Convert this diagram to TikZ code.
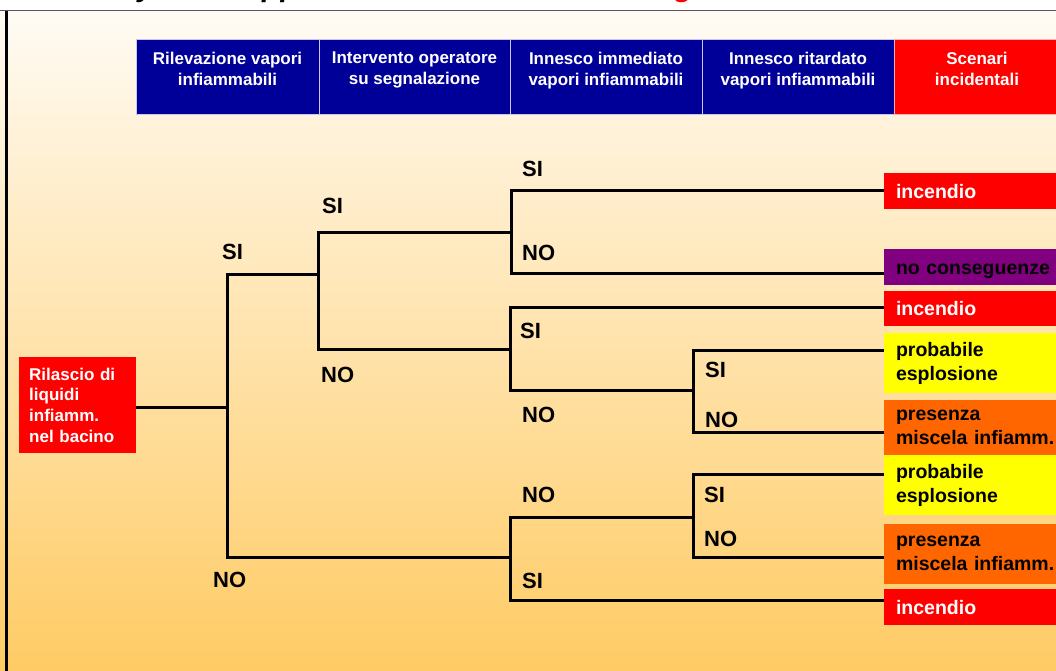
\documentclass[tikz,border=0pt]{standalone}
\usepackage{fontspec}
\setmainfont{Liberation Sans}

\definecolor{hdrblue}{HTML}{000099}
\definecolor{alarmred}{HTML}{FF0000}
\definecolor{plum}{HTML}{800080}
\definecolor{warnyellow}{HTML}{FFFF00}
\definecolor{hotorange}{HTML}{FF6600}
\definecolor{bgtop}{HTML}{FFFBF4}
\definecolor{bgbot}{HTML}{FFCB64}
\definecolor{hdredge}{HTML}{C8C8EC}

% one text line with fixed ascender/descender room
\newcommand{\boxline}[1]{\vphantom{Ap}#1}

\tikzset{
  branch/.style={line width=3pt, black, line join=miter},
  hdrbox/.style={rectangle, anchor=north west, draw=hdredge, line width=1pt,
    outer sep=0pt, inner sep=0pt, minimum height=75pt},
  hdrtext/.style={anchor=north, inner sep=0pt, align=center, text=white,
    font=\bfseries\fontsize{17pt}{20.5pt}\selectfont},
  outcome/.style={rectangle, anchor=west, inner xsep=12pt, inner ysep=0pt,
    text width=166pt, align=left, outer sep=0pt,
    font=\bfseries\fontsize{19.5pt}{24pt}\selectfont},
  oneline/.style={outcome, text height=14pt, text depth=0pt, minimum height=36pt},
  answer/.style={anchor=west, inner sep=0pt, font=\bfseries\fontsize{22pt}{22pt}\selectfont},
  torn/.style={inner sep=0pt, anchor=base, font=\bfseries\itshape\fontsize{30pt}{30pt}\selectfont}
}

\begin{document}
\begin{tikzpicture}[x=1pt, y=-1pt]
\useasboundingbox (0,0) rectangle (1056,671);
\clip (0,0) rectangle (1056,671);

% page background
\fill[white] (0,0) rectangle (1056,11);
\shade[top color=bgtop, bottom color=bgbot] (0,11) rectangle (1056,671);
\draw[black!65, line width=1.2pt] (0,10.7) -- (1056,10.7);
\draw[black, line width=2.5pt] (6.5,11) -- (6.5,671);

% descenders of the title line, above the rule
\begin{scope}
  \clip (0,0) rectangle (1056,10);
  \node[torn] (tt1) at (146,-3.8) {y};
  \node[torn, anchor=base west] (tt2) at (262,-3.8) {pp};
  \node[torn, text=alarmred] (tt3) at (684,-3.8) {g};
\end{scope}

% column headers
\node[hdrbox, fill=hdrblue, minimum width=183pt] (h1) at (136,40) {};
\node[hdrbox, fill=hdrblue, minimum width=191pt] (h2) at (319,40) {};
\node[hdrbox, fill=hdrblue, minimum width=192pt] (h3) at (510,40) {};
\node[hdrbox, fill=hdrblue, minimum width=192pt] (h4) at (702,40) {};
\node[hdrbox, fill=alarmred, draw=red!30!white, minimum width=170pt] (h5) at (894,40) {};
\node[hdrtext] (t1) at ([yshift=-12pt]h1.north) {Rilevazione vapori\\infiammabili};
\node[hdrtext] (t2) at ([yshift=-12pt]h2.north) {Intervento operatore\\su segnalazione};
\node[hdrtext] (t3) at ([yshift=-12pt]h3.north) {Innesco immediato\\vapori infiammabili};
\node[hdrtext] (t4) at ([yshift=-12pt]h4.north) {Innesco ritardato\\vapori infiammabili};
\node[hdrtext] (t5) at (977,52) {Scenari\\incidentali};

% initiating event
\node[rectangle, anchor=north west, fill=alarmred, text=white, align=left,
      text width=97pt, inner xsep=10pt, inner ysep=0pt, minimum height=96pt,
      font=\bfseries\fontsize{17pt}{20.7pt}\selectfont]
      (rel) at (19,357) {Rilascio di\\liquidi\\infiamm.\\nel bacino};

% outcomes
\node[oneline, fill=alarmred, text=white] (s1) at (884,191) {incendio};
\node[oneline, fill=plum, text=black] (s2) at (884,267) {no conseguenze};
\node[oneline, fill=alarmred, text=white, minimum height=35pt] (s3) at (884,308.5) {incendio};
\node[outcome, fill=warnyellow, minimum height=60pt] (s4) at (884,363) {\boxline{probabile}\\\boxline{esplosione}};
\node[outcome, fill=hotorange, minimum height=56pt] (s5) at (884,428) {\boxline{presenza}\\\boxline{miscela infiamm.}};
\node[outcome, fill=warnyellow, minimum height=60pt] (s6) at (884,485) {\boxline{probabile}\\\boxline{esplosione}};
\node[outcome, fill=hotorange, minimum height=60pt] (s7) at (884,554) {\boxline{presenza}\\\boxline{miscela infiamm.}};
\node[oneline, fill=alarmred, text=white] (s8) at (884,607) {incendio};

% branch points
\coordinate (r)  at (227,407);
\coordinate (a1) at (227,274); \coordinate (a2) at (227,557);
\coordinate (b1) at (318,232); \coordinate (b2) at (318,349);
\coordinate (c1) at (511,190); \coordinate (c2) at (511,273);
\coordinate (d1) at (510,307); \coordinate (d2) at (510,390);
\coordinate (e1) at (693,350); \coordinate (e2) at (693,432);
\coordinate (f1) at (510,517); \coordinate (f2) at (510,600);
\coordinate (g1) at (693,474); \coordinate (g2) at (693,557);

% event tree
\draw[branch] (rel.east |- r) -- (r);
\draw[branch] (a1 -| b1) -- (a1) -- (a2) -- (a2 -| f1);
\draw[branch] (b1 -| c1) -- (b1) -- (b2) -- (b2 -| d1);
\draw[branch] (c1 -| s1.west) -- (c1) -- (c2) -- (c2 -| s2.west);
\draw[branch] (d1 -| s3.west) -- (d1) -- (d2) -- (d2 -| e1);
\draw[branch] (e1 -| s4.west) -- (e1) -- (e2) -- (e2 -| s5.west);
\draw[branch] (f2 -| s8.west) -- (f2) -- (f1) -- (f1 -| g1);
\draw[branch] (g1 -| s6.west) -- (g1) -- (g2) -- (g2 -| s7.west);

% branch answers
\node[answer] (l1)  at (222,252)   {SI};
\node[answer] (l2)  at (213,580)   {NO};
\node[answer] (l3)  at (322,206)   {SI};
\node[answer] (l4)  at (321,375)   {NO};
\node[answer] (l5)  at (522,169)   {SI};
\node[answer] (l6)  at (522,253)   {NO};
\node[answer] (l7)  at (520,330.5) {SI};
\node[answer] (l8)  at (522,414.5) {NO};
\node[answer] (l9)  at (705,370)   {SI};
\node[answer] (l10) at (705,419.5) {NO};
\node[answer] (l11) at (522,495)   {NO};
\node[answer] (l12) at (522,580.5) {SI};
\node[answer] (l13) at (704,495)   {SI};
\node[answer] (l14) at (704,539)   {NO};
\end{tikzpicture}
\end{document}
